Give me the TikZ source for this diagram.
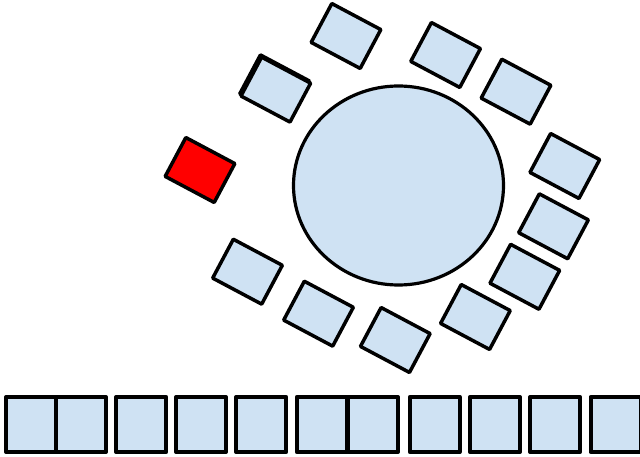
\documentclass[tikz,border=0pt]{standalone}
\usepackage{tikz}
\usetikzlibrary{positioning,shapes}

\definecolor{seatblue}{HTML}{CFE2F3}

\tikzset{
	seat/.style={rectangle,draw,line width=3.5pt,line join=round,fill=seatblue,
		minimum width=55.5pt,minimum height=44pt,inner sep=0pt,rotate=-28},
	bench/.style={rectangle,draw,line width=4pt,line join=round,fill=seatblue,
		minimum width=50pt,minimum height=55pt,inner sep=0pt}
}

\begin{document}
\begin{tikzpicture}[x=1pt,y=-1pt]

			\useasboundingbox (0,0) rectangle (640,457);

			\node[ellipse,draw,line width=3.2pt,fill=seatblue,minimum width=210pt,minimum height=199pt] (table) at (398.5,185.5) {};

			\node[seat] (s1) at (346,36) {};
			\node[seat] (s2b) at (274.6,87.4) {};
			\node[seat] (s2) at (275.8,89.6) {};
			\node[seat] (s3) at (445.6,55) {};
			\node[seat] (s4) at (516,91.7) {};
			\node[seat] (s5) at (564.8,166) {};
			\node[seat] (s6) at (553.5,226.3) {};
			\node[seat] (s7) at (524.8,276.8) {};
			\node[seat] (s8) at (475.4,317) {};
			\node[seat] (s9) at (395.3,340) {};
			\node[seat] (s10) at (318.5,313.7) {};
			\node[seat] (s11) at (247.5,271.7) {};

			\node[seat,fill=red] (guest) at (200,170) {};

			\node[bench] (b1) at (31,424.5) {};
			\node[bench] (b2) at (81,424.5) {};
			\node[bench] (b3) at (141.2,424.5) {};
			\node[bench] (b4) at (201,424.5) {};
			\node[bench] (b5) at (261.2,424.5) {};
			\node[bench] (b6) at (321.7,424.5) {};
			\node[bench] (b7) at (373,424.5) {};
			\node[bench] (b8) at (434.7,424.5) {};
			\node[bench] (b9) at (494.9,424.5) {};
			\node[bench] (b10) at (555.1,424.5) {};
			\node[bench] (b11) at (615.5,424.5) {};

		\end{tikzpicture}
\end{document}
